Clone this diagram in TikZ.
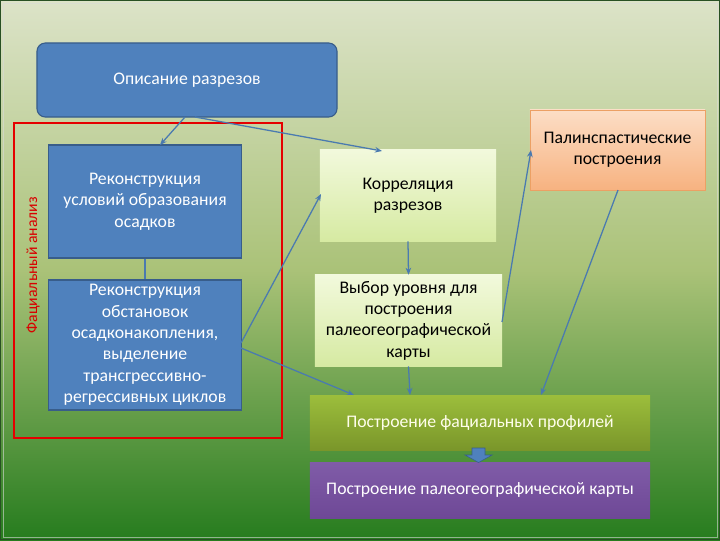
\documentclass[tikz,border=0pt]{standalone}
\usepackage{fontspec}
\setmainfont{Carlito}
\usetikzlibrary{arrows.meta}
\definecolor{bgtop}{RGB}{220,227,200}
\definecolor{bgmid}{RGB}{170,194,120}
\definecolor{bgbot}{RGB}{38,124,30}
\definecolor{bluefill}{RGB}{79,129,189}
\definecolor{blueedge}{RGB}{56,93,138}
\definecolor{ygtop}{RGB}{242,249,220}
\definecolor{ygbot}{RGB}{214,234,162}
\definecolor{ortop}{RGB}{252,222,198}
\definecolor{orbot}{RGB}{247,178,128}
\definecolor{oredge}{RGB}{236,160,100}
\definecolor{oltop}{RGB}{156,190,60}
\definecolor{olbot}{RGB}{122,150,42}
\definecolor{purp}{RGB}{128,92,168}
\definecolor{purpbot}{RGB}{110,72,150}
\definecolor{conn}{RGB}{74,122,176}
\definecolor{frame}{RGB}{40,80,35}
\tikzset{
  txt/.style={font=\fontsize{12.6}{15.2}\selectfont},
  bluebox/.style={draw=blueedge, line width=0.8pt, fill=bluefill, text=white, align=center, inner sep=0pt, txt},
  ygbox/.style={top color=ygtop, bottom color=ygbot, draw=none, align=center, inner sep=0pt, txt},
  orbox/.style={top color=ortop, bottom color=orbot, draw=oredge, line width=0.5pt, align=center, inner sep=0pt, txt},
  conarrow/.style={draw=conn, line width=0.9pt, -{Stealth[length=5pt,width=4pt]}},
  conline/.style={draw=conn, line width=0.9pt}
}
\begin{document}
\begin{tikzpicture}[x=0.025cm,y=-0.025cm]
\useasboundingbox (0,0) rectangle (720,540);
\shade[top color=bgtop, bottom color=bgbot, middle color=bgmid] (0,0) rectangle (720,540);
\draw[frame, line width=1.2pt] (0.5,0.5) rectangle (719.5,539.5);
\draw[white!70!gray, opacity=0.6, line width=0.5pt] (3,3) rectangle (717,537);

% red frame
\draw[red!90!black, line width=1.6pt] (14,123) rectangle (282,438);
\node[rotate=90, text=red!85!black, font=\fontsize{11.2}{13}\selectfont] (facan) at (33,265) {Фациальный анализ};

% nodes
\node[bluebox, rounded corners=6pt, minimum width=7.5cm, minimum height=1.85cm] (opis) at (187,80) {Описание разрезов};
\node[bluebox, minimum width=4.825cm, minimum height=2.825cm] (rek1) at (145,201.5) {Реконструкция\\условий образования\\осадков};
\node[bluebox, minimum width=4.825cm, minimum height=3.25cm] (rek2) at (145,345) {Реконструкция\\обстановок\\осадконакопления,\\выделение\\трансгрессивно-\\регрессивных циклов};
\node[ygbox, minimum width=4.4cm, minimum height=2.275cm] (korr) at (408,195.5) {Корреляция\\разрезов};
\node[orbox, minimum width=4.375cm, minimum height=2cm] (palin) at (617.5,150) {Палинспастические\\построения};
\node[ygbox, minimum width=4.675cm, minimum height=2.275cm] (vybor) at (408.5,320.5) {Выбор уровня для\\построения\\палеогеографической\\карты};
\node[top color=oltop, bottom color=olbot, text=white!92!yellow, minimum width=8.5cm, minimum height=1.375cm, inner sep=0pt, txt] (prof) at (480,422.5) {Построение фациальных профилей};
\node[top color=purp, bottom color=purpbot, text=white, minimum width=8.5cm, minimum height=1.4cm, inner sep=0pt, txt] (karta) at (480,490) {Построение палеогеографической карты};

% block arrow between profiles and map
\draw[fill=bluefill, draw=blueedge, line width=0.4pt]
  (472,448) -- (485,448) -- (485,455) -- (492,455) -- (478.5,462.5) -- (465,455) -- (472,455) -- cycle;

% connectors
\coordinate (o1) at (185,117);
\coordinate (o2) at (195,117);
\coordinate (k1) at (382,151);
\coordinate (r1) at (160,145);
\draw[conarrow] (o1) -- (r1);
\draw[conarrow] (o2) -- (k1);
\draw[conline] (rek1.south) -- (rek2.north);
\draw[conarrow] (241,343) -- (321,194);
\draw[conarrow] (241,348) -- (354,395);
\draw[conarrow] (korr.south) -- (vybor.north);
\draw[conarrow] (502,322) -- (531,150);
\draw[conarrow] (618,190) -- (541,395);
\draw[conarrow] (vybor.south) -- (410,395);
\end{tikzpicture}
\end{document}
